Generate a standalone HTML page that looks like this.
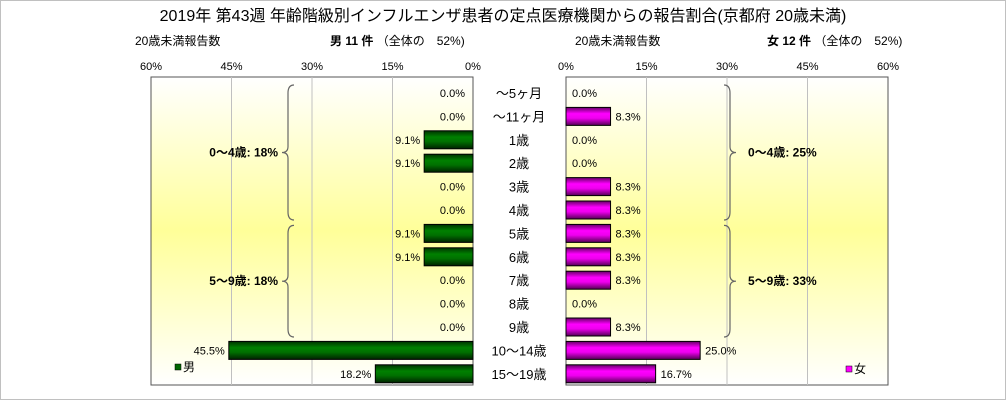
<!DOCTYPE html>
<html><head><meta charset="utf-8">
<style>
body{margin:0;background:#fff;}
svg text{font-family:"Liberation Sans","Noto Sans CJK JP",sans-serif;}
</style></head>
<body>
<svg width="1006" height="400" xmlns="http://www.w3.org/2000/svg">
<defs>
<linearGradient id="bg" x1="0" y1="0" x2="0" y2="1">
<stop offset="0" stop-color="#ffffff"/><stop offset="0.5" stop-color="#ffff99"/><stop offset="1" stop-color="#ffffff"/>
</linearGradient>
<linearGradient id="gm" x1="0" y1="0" x2="0" y2="1">
<stop offset="0" stop-color="#003300"/><stop offset="0.35" stop-color="#008000"/><stop offset="0.6" stop-color="#007000"/><stop offset="1" stop-color="#002200"/>
</linearGradient>
<linearGradient id="gf" x1="0" y1="0" x2="0" y2="1">
<stop offset="0" stop-color="#660066"/><stop offset="0.35" stop-color="#ff00ff"/><stop offset="0.6" stop-color="#ee00ee"/><stop offset="1" stop-color="#550055"/>
</linearGradient>
</defs>
<rect x="0.5" y="0.5" width="1005" height="399" fill="#fff" stroke="#c0c0c0"/>
<text x="503" y="21" font-size="16" text-anchor="middle">2019年 第43週 年齢階級別インフルエンザ患者の定点医療機関からの報告割合(京都府 20歳未満)</text>
<text x="135" y="45" font-size="12">20歳未満報告数</text>
<text x="330" y="45" font-size="12"><tspan font-weight="bold">男 11 件</tspan> （全体の　52%)</text>
<text x="575" y="45" font-size="12">20歳未満報告数</text>
<text x="767" y="45" font-size="12"><tspan font-weight="bold">女 12 件</tspan> （全体の　52%)</text>
<g id="left"></g><g id="right"></g><g id="labels"></g>
</svg>
<script>
const categories=["～5ヶ月","～11ヶ月","1歳","2歳","3歳","4歳","5歳","6歳","7歳","8歳","9歳","10～14歳","15～19歳"];
const maleValues=[0,0,9.1,9.1,0,0,9.1,9.1,0,0,0,45.5,18.2];
const femaleValues=[0,8.3,0,0,8.3,8.3,8.3,8.3,8.3,0,8.3,25.0,16.7];
const tickValues=[0,15,30,45,60];
const groupLabelsMale=["0～4歳: 18%","5～9歳: 18%"];
const groupLabelsFemale=["0～4歳: 25%","5～9歳: 33%"];
const NS="http://www.w3.org/2000/svg";
const plotTop=77,plotBottom=385,pitch=23.4,y0=93,bh=18;
const xL=v=>473-v*(322/60), xR=v=>566+v*(322/60);
const yRow=i=>y0+i*pitch;
function mk(tag,attrs,parent,txt){const e=document.createElementNS(NS,tag);for(const k in attrs)e.setAttribute(k,attrs[k]);if(txt!==undefined)e.textContent=txt;parent.appendChild(e);return e;}
function panel(g,xf,vals,fill,side,groups){
  const x1=side<0?151:566;
  const bgRect=mk('rect',{x:x1,y:plotTop,width:322,height:plotBottom-plotTop,fill:'url(#bg)',stroke:'#555'},g);
  
  
  tickValues.forEach(t=>{
    const x=xf(t);
    if(t>0&&t<60){const l=mk('line',{x1:x,x2:x,y1:plotTop,y2:plotBottom,stroke:'#c0c0c0'},g);
      
      }
    const tx=mk('text',{x:x,y:70,'font-size':11,'text-anchor':'middle'},g,t+'%');
    
    
  });
  vals.forEach((v,i)=>{
    const yc=yRow(i);
    if(v>0){
      const xa=xf(0),xb=xf(v);
      const r=mk('rect',{x:Math.min(xa,xb),y:yc-bh/2,width:Math.abs(xb-xa),height:bh,fill:fill,stroke:'#000','stroke-width':1},g);
      
      
    }
    let lx,anchor;
    if(side<0){ lx=v>0?xf(v)-4:xf(0)-8; anchor='end'; }
    else{ lx=v>0?xf(v)+5:xf(0)+6; anchor='start'; }
    const t=mk('text',{x:lx,y:yc+4,'font-size':11,'text-anchor':anchor},g,v.toFixed(1)+'%');
    
    
  });
  const bx=side<0?288:730, dir=side<0?-1:1;
  [[0,5],[6,10]].forEach((rg,k)=>{
    const ya=yRow(rg[0])-8, yb=yRow(rg[1])+10, ym=(ya+yb)/2;
    const d=`M${bx+dir*-6},${ya} Q${bx},${ya} ${bx},${ya+8} L${bx},${ym-6} Q${bx},${ym} ${bx+dir*6},${ym} Q${bx},${ym} ${bx},${ym+6} L${bx},${yb-8} Q${bx},${yb} ${bx+dir*-6},${yb}`;
    const p=mk('path',{d:d,fill:'none',stroke:'#666','stroke-width':1.2},g);
    
    
    const tx=mk('text',{x:side<0?bx-10:bx+18,y:ym+4,'font-size':12,'font-weight':'bold','text-anchor':side<0?'end':'start'},g,groups[k]);
    
    
  });
}
panel(document.getElementById('left'),xL,maleValues,'url(#gm)',-1,groupLabelsMale);
panel(document.getElementById('right'),xR,femaleValues,'url(#gf)',1,groupLabelsFemale);
const lab=document.getElementById('labels');
categories.forEach((c,i)=>{
  const t=mk('text',{x:519,y:yRow(i)+5,'font-size':13,'text-anchor':'middle'},lab,c);
  
  
});
let r=mk('rect',{x:175,y:364,width:6,height:6,fill:'#006600',stroke:'#000','stroke-width':0.5},lab);


let t=mk('text',{x:183,y:371,'font-size':12},lab,'男');


r=mk('rect',{x:846,y:366,width:6,height:6,fill:'#ff00ff',stroke:'#000','stroke-width':0.5},lab);


t=mk('text',{x:854,y:373,'font-size':12},lab,'女');


</script>
</body></html>
